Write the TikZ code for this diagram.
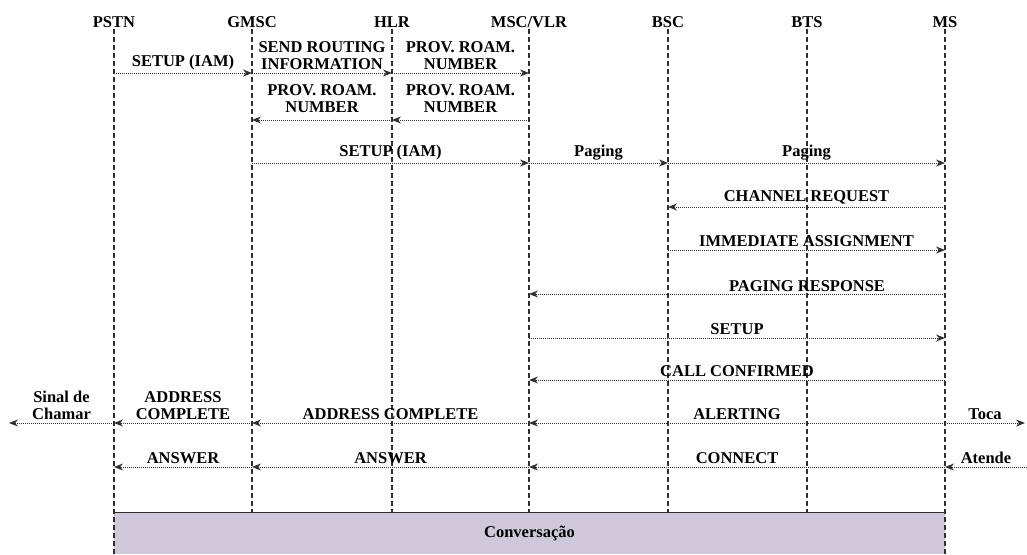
\documentclass[tikz,border=0pt]{standalone}
\usepackage{fontspec}
\setmainfont{Liberation Serif}
\usetikzlibrary{arrows.meta, positioning, calc}

\definecolor{convfill}{HTML}{CEC8DA}
\definecolor{linegray}{HTML}{2E2E2E}

\begin{document}
\begin{tikzpicture}[x=1pt, y=-1pt,
    font=\fontsize{16.5}{17}\selectfont\bfseries,
    head/.style={inner sep=1pt},
    life/.style={draw=linegray, dash pattern=on 5pt off 3pt, line width=1.2pt},
    msg/.style={draw=linegray, densely dotted, line width=1pt, -{Stealth[length=9pt,width=7pt]}},
    lbl/.style={above, inner sep=2.5pt, align=center}]
  \useasboundingbox (0,0) rectangle (1027,554);

  % entities
  \node[head] (pstn) at (114,22) {PSTN};
  \node[head] (gmsc) at (252,22) {GMSC};
  \node[head] (hlr)  at (392,22) {HLR};
  \node[head] (msc)  at (529,22) {MSC/VLR};
  \node[head] (bsc)  at (668,22) {BSC};
  \node[head] (bts)  at (807,22) {BTS};
  \node[head] (ms)   at (945,22) {MS};

  % message rows
  \coordinate (r1) at (0,73);
  \coordinate (r2) at (0,120);
  \coordinate (r3) at (0,163);
  \coordinate (r4) at (0,207);
  \coordinate (r5) at (0,250);
  \coordinate (r6) at (0,294);
  \coordinate (r7) at (0,338);
  \coordinate (r8) at (0,380);
  \coordinate (r9) at (0,423);
  \coordinate (r10) at (0,467);
  \coordinate (bartop) at (0,512);
  \coordinate (barbot) at (0,554);

  % conversation bar
  \fill[convfill] (pstn |- bartop) rectangle (ms |- barbot);
  \draw[linegray, line width=0.8pt] (pstn |- bartop) -- (ms |- bartop);
  \node (conv) at ($(pstn |- bartop)!0.5!(ms |- barbot)$) {Conversação};

  % lifelines
  \foreach \e in {gmsc,hlr,msc,bsc,bts}
    \draw[life] (\e.south) -- (\e |- bartop);
  \draw[life] (pstn.south) -- (pstn |- barbot);
  \draw[life] (ms.south) -- (ms |- barbot);

  % call setup
  \draw[msg] (pstn |- r1) -- node[lbl] (setupa) {SETUP (IAM)} (gmsc |- r1);
  \draw[msg] (gmsc |- r1) -- node[lbl] (sri) {SEND ROUTING\\INFORMATION} (hlr |- r1);
  \draw[msg] (hlr |- r1) -- node[lbl] (prna) {PROV.\ ROAM.\\NUMBER} (msc |- r1);
  \draw[msg] (msc |- r2) -- node[lbl, yshift=4pt] (prnb) {PROV.\ ROAM.\\NUMBER} (hlr |- r2);
  \draw[msg] (hlr |- r2) -- node[lbl, yshift=4pt] (prnc) {PROV.\ ROAM.\\NUMBER} (gmsc |- r2);
  \draw[msg] (gmsc |- r3) -- node[lbl] (setupb) {SETUP (IAM)} (msc |- r3);
  \draw[msg] (msc |- r3) -- node[lbl] (paga) {Paging} (bsc |- r3);
  \draw[msg] (bsc |- r3) -- node[lbl] (pagb) {Paging} (ms |- r3);

  % radio part
  \draw[msg] (ms |- r4) -- node[lbl] (chreq) {CHANNEL REQUEST} (bsc |- r4);
  \draw[msg] (bsc |- r5) -- node[lbl] (imm) {IMMEDIATE ASSIGNMENT} (ms |- r5);
  \draw[msg] (ms |- r6) -- (msc |- r6);
  \node[lbl] (pgresp) at (bts |- r6) {PAGING RESPONSE};
  \draw[msg] (msc |- r7) -- node[lbl] (setupc) {SETUP} (ms |- r7);
  \draw[msg] (ms |- r8) -- node[lbl] (callconf) {CALL CONFIRMED} (msc |- r8);

  % alerting
  \coordinate (sinal) at (9,423);
  \coordinate (toca) at (1025,423);
  \draw[msg] (ms |- r9) -- node[lbl] (alert) {ALERTING} (msc |- r9);
  \draw[msg] (msc |- r9) -- node[lbl] (acma) {ADDRESS COMPLETE} (gmsc |- r9);
  \draw[msg] (gmsc |- r9) -- node[lbl] (acmb) {ADDRESS\\COMPLETE} (pstn |- r9);
  \draw[msg] (pstn |- r9) -- node[lbl] (chamar) {Sinal de\\Chamar} (sinal);
  \draw[msg] (ms |- r9) -- node[lbl] (tocalbl) {Toca} (toca);

  % answer
  \coordinate (atende) at (1027,467);
  \draw[msg] (atende) -- node[lbl] (atlbl) {Atende} (ms |- r10);
  \draw[msg] (ms |- r10) -- node[lbl] (conn) {CONNECT} (msc |- r10);
  \draw[msg] (msc |- r10) -- node[lbl] (ansa) {ANSWER} (gmsc |- r10);
  \draw[msg] (gmsc |- r10) -- node[lbl] (ansb) {ANSWER} (pstn |- r10);
\end{tikzpicture}
\end{document}
